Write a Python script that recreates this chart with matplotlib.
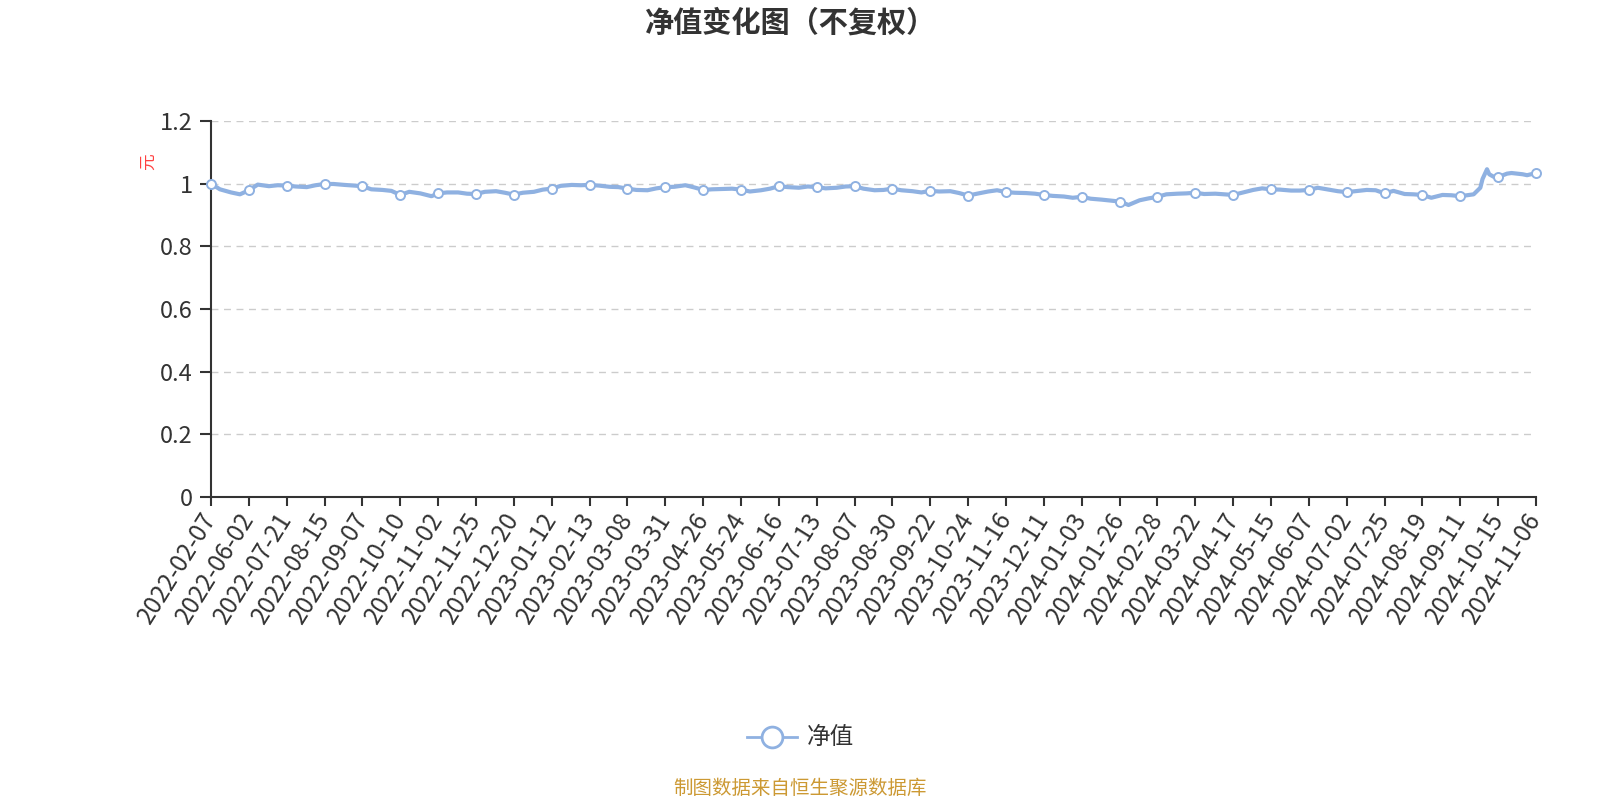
import matplotlib
matplotlib.use("Agg")
import matplotlib.pyplot as plt
from matplotlib.lines import Line2D

plt.rcParams['font.family'] = ['Noto Sans CJK SC', 'DejaVu Sans']

# ---- data ----
tick_labels = [
    "2022-02-07", "2022-06-02", "2022-07-21", "2022-08-15", "2022-09-07", "2022-10-10",
    "2022-11-02", "2022-11-25", "2022-12-20", "2023-01-12", "2023-02-13", "2023-03-08",
    "2023-03-31", "2023-04-26", "2023-05-24", "2023-06-16", "2023-07-13", "2023-08-07",
    "2023-08-30", "2023-09-22", "2023-10-24", "2023-11-16", "2023-12-11", "2024-01-03",
    "2024-01-26", "2024-02-28", "2024-03-22", "2024-04-17", "2024-05-15", "2024-06-07",
    "2024-07-02", "2024-07-25", "2024-08-19", "2024-09-11", "2024-10-15", "2024-11-06",
]
points_per_label = 17  # trading-day index step between labelled dates

day_index = [
    0, 4, 9, 13, 17, 21, 26, 30, 34, 38, 43, 47, 51, 55, 60, 64,
    68, 72, 77, 81, 85, 89, 94, 99, 102, 106, 111, 115, 119, 123, 128, 132,
    136, 140, 145, 149, 153, 157, 162, 166, 170, 174, 179, 183, 187, 191, 196, 200,
    204, 208, 213, 217, 221, 225, 230, 234, 238, 242, 247, 251, 255, 259, 264, 268,
    272, 276, 281, 285, 289, 293, 298, 302, 306, 310, 315, 319, 323, 327, 332, 336,
    340, 344, 349, 353, 357, 361, 366, 370, 374, 378, 383, 387, 391, 395, 400, 404,
    408, 412, 417, 421, 425, 429, 434, 438, 442, 446, 451, 455, 459, 463, 468, 472,
    476, 480, 485, 489, 493, 497, 502, 506, 510, 514, 519, 523, 527, 531, 536, 540,
    544, 548, 553, 557, 561, 564, 567, 570, 571, 573, 574, 576,
    578, 582, 584, 589, 591, 595,
]
nav = [
    1.000, 0.982, 0.972, 0.966, 0.979, 0.997, 0.992, 0.995, 0.994, 0.991, 0.989, 0.995, 0.999, 0.999, 0.996, 0.994,
    0.992, 0.982, 0.980, 0.977, 0.964, 0.974, 0.969, 0.960, 0.969, 0.972, 0.972, 0.968, 0.967, 0.974, 0.976, 0.971,
    0.965, 0.971, 0.974, 0.981, 0.984, 0.993, 0.996, 0.995, 0.996, 0.994, 0.990, 0.989, 0.984, 0.980, 0.979, 0.985,
    0.989, 0.990, 0.995, 0.988, 0.980, 0.982, 0.983, 0.984, 0.981, 0.975, 0.979, 0.984, 0.992, 0.989, 0.987, 0.991,
    0.989, 0.985, 0.987, 0.991, 0.992, 0.984, 0.979, 0.980, 0.984, 0.979, 0.976, 0.972, 0.977, 0.975, 0.976, 0.970,
    0.962, 0.968, 0.975, 0.979, 0.973, 0.971, 0.970, 0.968, 0.964, 0.961, 0.959, 0.955, 0.958, 0.952, 0.949, 0.946,
    0.943, 0.932, 0.947, 0.953, 0.958, 0.966, 0.968, 0.969, 0.971, 0.967, 0.968, 0.966, 0.964, 0.971, 0.980, 0.985,
    0.982, 0.981, 0.978, 0.978, 0.980, 0.987, 0.981, 0.976, 0.973, 0.976, 0.980, 0.979, 0.969, 0.977, 0.967, 0.966,
    0.964, 0.955, 0.964, 0.963, 0.960, 0.963, 0.966, 0.987, 1.015, 1.046, 1.030, 1.022,
    1.021, 1.032, 1.034, 1.030, 1.027, 1.034,
]
y_ticks = [0, 0.2, 0.4, 0.6, 0.8, 1.0, 1.2]
y_tick_labels = ["0", "0.2", "0.4", "0.6", "0.8", "1", "1.2"]

title = "净值变化图（不复权）"
series_name = "净值"
unit_label = "元"
source_text = "制图数据来自恒生聚源数据库"

# ---- style ----
line_color = "#8fb1e1"
text_color = "#333333"
W, H = 1600, 800

fig = plt.figure(figsize=(16, 8), dpi=100)
ax = fig.add_axes([211 / W, 1 - 497 / H, (1536 - 211) / W, (497 - 121) / H])

marker_idx = [i for i, d in enumerate(day_index) if d % points_per_label == 0]
ax.plot(day_index, nav, color=line_color, lw=3.0, solid_joinstyle='round',
        marker='o', markevery=marker_idx, markersize=6.5,
        markerfacecolor='white', markeredgecolor=line_color, markeredgewidth=1.4,
        zorder=3, clip_on=False)

ax.set_xlim(0, (len(tick_labels) - 1) * points_per_label)
ax.set_ylim(0, 1.2)

ax.set_yticks(y_ticks)
ax.set_yticklabels(y_tick_labels)
ax.set_xticks([i * points_per_label for i in range(len(tick_labels))])
ax.set_xticklabels(tick_labels, rotation=58, ha='right', va='center',
                   rotation_mode='anchor')

for y in y_ticks[1:]:
    ax.axhline(y, color='#cccccc', lw=1.0, dashes=(5, 4), zorder=1)

for s in ['top', 'right']:
    ax.spines[s].set_visible(False)
for s in ['left', 'bottom']:
    ax.spines[s].set_color(text_color)
    ax.spines[s].set_linewidth(1.5)

ax.tick_params(axis='y', length=8, width=1.5, color=text_color, pad=5,
               labelsize=17, labelcolor=text_color)
ax.tick_params(axis='x', length=6.5, width=1.5, color=text_color, pad=6,
               labelsize=17.5, labelcolor=text_color)

# title
fig.text(791 / W, 1 - 23 / H, title, ha='center', va='center', fontsize=21,
         fontweight='bold', color=text_color)

# unit label
fig.text(148 / W, 1 - 162 / H, unit_label, ha='center', va='center', rotation=90,
         fontsize=12, color='#ff4040')

# legend
ly = 1 - 737 / H
fig.add_artist(Line2D([747 / W, 797 / W], [ly, ly], color=line_color, lw=2,
                      transform=fig.transFigure))
fig.add_artist(Line2D([772 / W], [ly], marker='o', markersize=15,
                      markerfacecolor='white', markeredgecolor=line_color,
                      markeredgewidth=2, transform=fig.transFigure))
fig.text(807 / W, ly, series_name, ha='left', va='center', fontsize=17,
         color=text_color)

# source
fig.text(800 / W, 1 - 788 / H, source_text, ha='center', va='center',
         fontsize=14, color='#cc9933')

fig.savefig("out.png", dpi=100)
